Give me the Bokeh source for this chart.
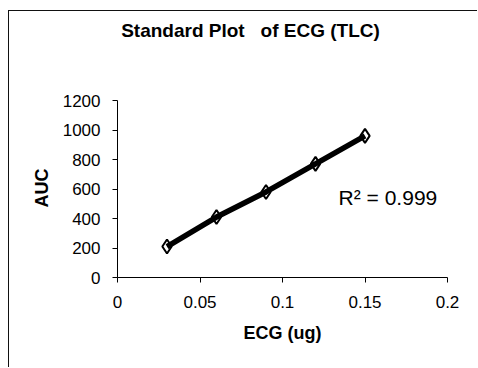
from bokeh.plotting import figure
from bokeh.models import FixedTicker, Label, Title
from bokeh.embed import file_html
from bokeh.resources import INLINE

# Data
ecg_ug = [0.03, 0.06, 0.09, 0.12, 0.15]
auc = [210, 410, 580, 770, 960]

x_ticks = [0, 0.05, 0.1, 0.15, 0.2]
x_tick_labels = ["0", "0.05", "0.1", "0.15", "0.2"]
y_ticks = [0, 200, 400, 600, 800, 1000, 1200]

title_text = "Standard Plot \u00a0\u00a0of ECG (TLC)"
y_label = "AUC"
x_label = "ECG (ug)"
r2_text = "R\u00b2 = 0.999"

FONT = "Liberation Sans"

# frame extends above the y-axis (bounded to 0..1200) so the title fits inside it
p = figure(width=469, height=357, x_range=(0, 0.2), y_range=(0, 1803.4),
           output_backend="svg", toolbar_location=None,
           min_border_left=108, min_border_right=31,
           min_border_top=0, min_border_bottom=91)
p.margin = (10, 0, 0, 8)
p.styles = {"border-left": "1px solid #111", "border-top": "1px solid #111"}
p.outline_line_color = None
p.xgrid.grid_line_color = None
p.ygrid.grid_line_color = None
p.background_fill_color = "white"
p.border_fill_color = "white"

for ax in (p.xaxis[0], p.yaxis[0]):
    ax.axis_line_color = "black"
    ax.axis_line_width = 1
    ax.major_tick_line_color = "black"
    ax.major_tick_out = 5
    ax.major_tick_in = 0
    ax.minor_tick_line_color = None
    ax.major_label_text_font = FONT
    ax.major_label_text_font_size = "17px"
    ax.major_label_text_color = "black"
    ax.axis_label_text_font = FONT
    ax.axis_label_text_font_size = "18px"
    ax.axis_label_text_font_style = "bold"
    ax.axis_label_text_color = "black"

p.xaxis.ticker = FixedTicker(ticks=x_ticks)
p.xaxis.major_label_overrides = {t: l for t, l in zip(x_ticks, x_tick_labels)}
p.yaxis.ticker = FixedTicker(ticks=y_ticks)
p.yaxis.bounds = (0, 1200)
p.xaxis.axis_label = x_label
p.xaxis.major_label_standoff = 13
p.xaxis.axis_label_standoff = 12
p.yaxis.major_label_standoff = 12

p.add_layout(Title(text=y_label, text_font=FONT, text_font_size="18px",
                   text_font_style="bold", text_color="black",
                   align="left", offset=70, standoff=16), "left")

p.scatter(ecg_ug, auc, marker="diamond", size=14, fill_color="white",
          line_color="black", line_width=2)
p.line(ecg_ug, auc, line_color="black", line_width=5.5)

p.add_layout(Label(x=0.0806, y=1674, text=title_text, text_font=FONT,
                   text_font_size="19px", text_font_style="bold",
                   text_align="center", text_baseline="middle",
                   text_color="black"))
p.add_layout(Label(x=0.134, y=542, text=r2_text, text_font=FONT,
                   text_font_size="21px", text_align="left",
                   text_baseline="alphabetic", text_color="black"))

open("out.html", "w").write(file_html(p, INLINE))
